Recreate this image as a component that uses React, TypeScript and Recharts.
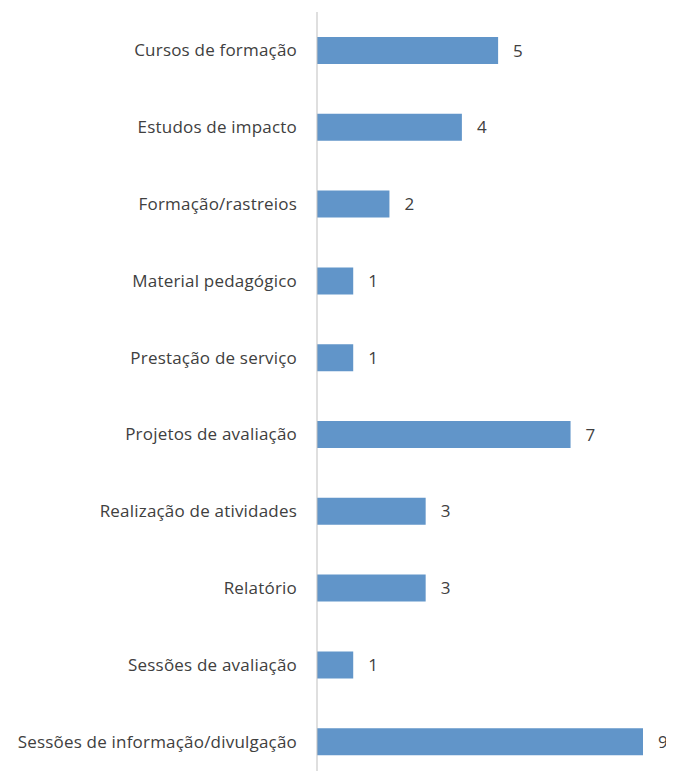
import { BarChart, Bar, XAxis, YAxis, LabelList } from 'recharts';

const CATEGORIES = [
  'Cursos de formação',
  'Estudos de impacto',
  'Formação/rastreios',
  'Material pedagógico',
  'Prestação  de serviço',
  'Projetos de avaliação',
  'Realização de atividades',
  'Relatório',
  'Sessões de avaliação',
  'Sessões de informação/divulgação',
];

const COUNTS = [5, 4, 2, 1, 1, 7, 3, 3, 1, 9];

const FONT = '"Open Sans", sans-serif';

export default function App() {
  const data = CATEGORIES.map((name, i) => ({ name, value: COUNTS[i] }));

  return (
    <div style={{ width: 666, height: 763, overflow: 'hidden', marginRight: -8 }}>
      <BarChart
        width={666}
        height={772}
        data={data}
        layout="vertical"
        margin={{ top: 4, right: 31, bottom: 0, left: 0 }}
        barSize={27}
      >
        <XAxis type="number" domain={[0, 9]} hide />
        <YAxis
          type="category"
          dataKey="name"
          width={309}
          axisLine={{ stroke: '#bfbfbf', strokeWidth: 1 }}
          tickLine={false}
          tickMargin={14}
          interval={0}
          tick={{ fontSize: 17, fill: '#404040', fontFamily: FONT, letterSpacing: 0.2 }}
        />
        <Bar dataKey="value" fill="#6195c9" isAnimationActive={false}>
          <LabelList
            dataKey="value"
            position="right"
            offset={15}
            style={{ fontSize: 17, fill: '#404040', fontFamily: FONT }}
          />
        </Bar>
      </BarChart>
    </div>
  );
}
